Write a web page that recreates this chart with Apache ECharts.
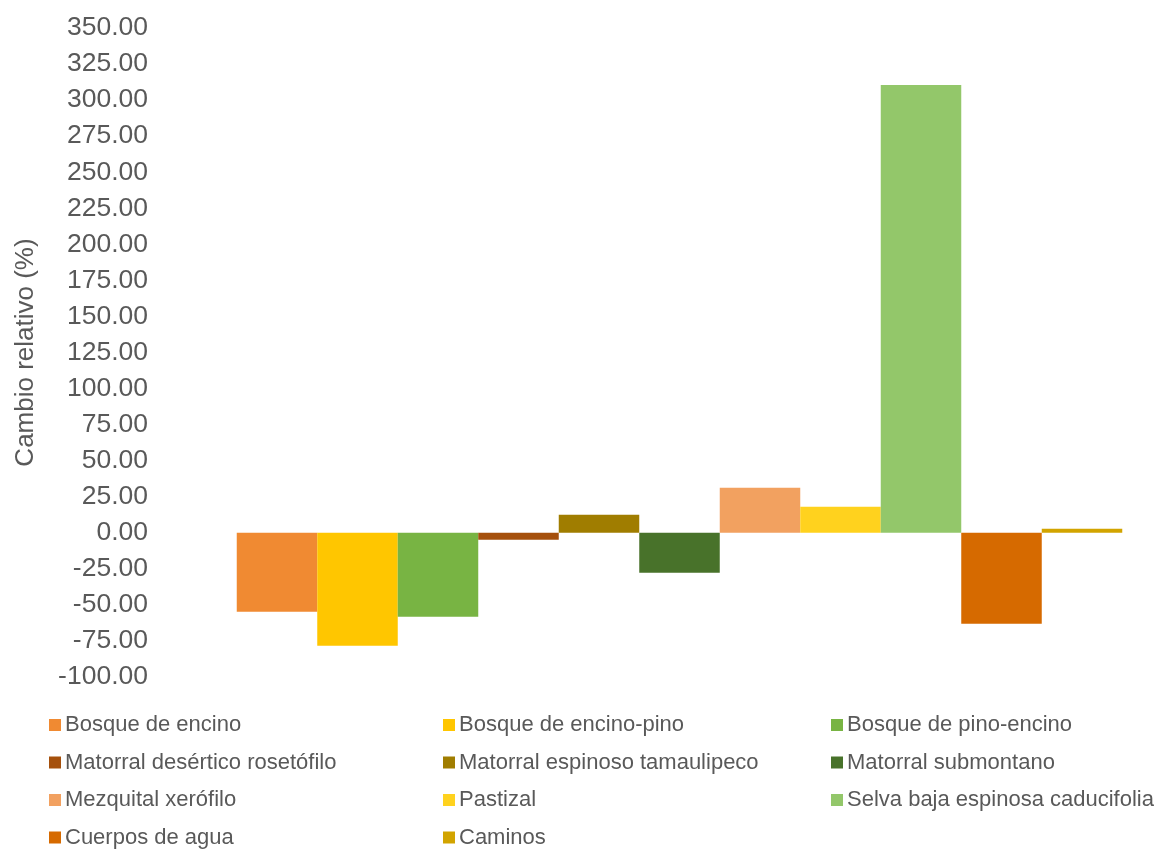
<!DOCTYPE html>
<html><head><meta charset="utf-8">
<script src="https://cdn.jsdelivr.net/npm/echarts@6/dist/echarts.min.js"></script>
<style>html,body{margin:0;padding:0;background:#fff}#c{width:1158px;height:851px}</style>
</head><body><div id="c"></div>
<script>
const seriesNames = ['Bosque de encino','Bosque de encino-pino','Bosque de pino-encino','Matorral desértico rosetófilo','Matorral espinoso tamaulipeco','Matorral submontano','Mezquital xerófilo','Pastizal','Selva baja espinosa caducifolia','Cuerpos de agua','Caminos'];
const seriesValues = [-54.8, -78.3, -58.2, -4.9, 12.5, -27.7, 31.2, 18.0, 310.5, -63.1, 2.8];
const seriesColors = ['#F08A32','#FFC600','#78B443','#A5500C','#A07D00','#48722A','#F2A160','#FFD21E','#93C76A','#D66A00','#D2A400'];
const yMin = -100, yMax = 350, yStep = 25;

const chart = echarts.init(document.getElementById('c'));
const legendCols = [[0,3,6,9],[1,4,7,10],[2,5,8]];
const legendLeft = [49, 443, 831];
const legends = legendCols.map((idx, i) => ({
  orient: 'vertical', left: legendLeft[i], top: 714, height: 150, padding: 0,
  itemWidth: 12, itemHeight: 12, itemGap: 15.5, icon: 'rect',
  data: idx.map(k => seriesNames[k]),
  textStyle: { fontFamily: 'Liberation Sans, Arial, sans-serif', fontSize: 22, color: '#595959', padding: [0,0,0,-1] }
}));
chart.setOption({
  animation: false,
  grid: { left: 209, right: 8, top: 28, bottom: 174 },
  legend: legends,
  xAxis: { type: 'category', data: [''], axisLine: { show: false }, axisTick: { show: false }, axisLabel: { show: false } },
  yAxis: {
    type: 'value', min: yMin, max: yMax, interval: yStep,
    name: 'Cambio relativo (%)', nameLocation: 'middle', nameRotate: 90, nameGap: 170,
    nameTextStyle: { fontFamily: 'Liberation Sans, Arial, sans-serif', fontSize: 26, color: '#595959' },
    axisLine: { show: false }, axisTick: { show: false }, splitLine: { show: false },
    axisLabel: { margin: 61, fontFamily: 'Liberation Sans, Arial, sans-serif', fontSize: 26.5, color: '#595959', formatter: v => v.toFixed(2) }
  },
  series: seriesNames.map((n, i) => ({
    name: n, type: 'bar', data: [seriesValues[i]], barGap: '0%', barWidth: 80.5,
    itemStyle: { color: seriesColors[i] }
  }))
});
</script></body></html>
